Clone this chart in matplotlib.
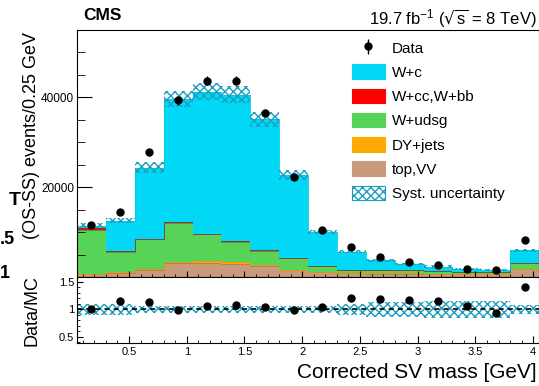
import numpy as np
import matplotlib
matplotlib.use('Agg')
import matplotlib.pyplot as plt
from matplotlib.ticker import MultipleLocator
from matplotlib.patches import Patch

plt.rcParams['font.family'] = ['Liberation Sans', 'DejaVu Sans']
plt.rcParams['mathtext.default'] = 'regular'
plt.rcParams['hatch.linewidth'] = 1.0

# corrected SV mass bins, 0.25 GeV wide
edges = np.linspace(0.05, 4.05, 17)
centers = 0.5 * (edges[:-1] + edges[1:])

# stacked MC components (OS-SS events per bin), bottom to top
top_vv = np.array([600, 1000, 1650, 3050, 3100, 2900, 2400, 1500, 1050, 800, 750, 750, 700, 650, 600, 1700])
dy_jets = np.array([150, 150, 150, 200, 550, 350, 250, 150, 100, 80, 60, 50, 40, 30, 30, 100])
w_udsg = np.array([9700, 4450, 6600, 8850, 5900, 4600, 3150, 2550, 1320, 720, 760, 720, 540, 430, 405, 1320])
w_ccbb = np.array([350, 100, 100, 150, 100, 100, 100, 70, 80, 60, 50, 60, 50, 30, 25, 100])
w_c = np.array([600, 6850, 15800, 27250, 31550, 32550, 29200, 18330, 7520, 3960, 2080, 1310, 970, 600, 545, 2680])

data = np.array([11500, 14400, 27700, 39300, 43600, 43600, 36500, 22300, 10500, 6740, 4400, 3400, 2670, 1850, 1500, 8300])
data_err = np.array([400, 500, 700, 1000, 1000, 1000, 900, 700, 250, 150, 100, 80, 70, 60, 60, 200])

# relative systematic uncertainty: main panel band and ratio band
syst_main = np.array([0.05, 0.045, 0.05, 0.045, 0.046, 0.047, 0.047, 0.05, 0.04, 0.065, 0.08, 0.1, 0.12, 0.14, 0.15, 0.06])
syst_ratio = np.array([0.1, 0.1, 0.07, 0.07, 0.07, 0.07, 0.07, 0.07, 0.065, 0.1, 0.14, 0.14, 0.15, 0.16, 0.15, 0.09])

labels = ['top,VV', 'DY+jets', 'W+udsg', 'W+cc,W+bb', 'W+c']
fills = ['#c99a7b', '#ffaa00', '#57d457', '#ff0000', '#00d8f5']
lines = ['#b07a55', '#e89a00', '#4c8f4c', '#8a3a3a', '#00c8e8']
hatch_col = '#1b9dbc'

fig = plt.figure(figsize=(5.39, 3.86), dpi=100)
ax = fig.add_axes([77 / 539, 1 - 277 / 386, 462 / 539, 247 / 386])
rax = fig.add_axes([77 / 539, 1 - 343 / 386, 462 / 539, 66 / 386], sharex=ax)

cum = np.zeros(len(centers))
for vals, fc, lc in zip([top_vv, dy_jets, w_udsg, w_ccbb, w_c], fills, lines):
    ax.stairs(cum + vals, edges, baseline=cum, fill=True, color=fc, lw=0)
    ax.stairs(cum + vals, edges, baseline=None, color=lc, lw=0.6)
    cum = cum + vals
total = cum

ax.stairs(total * (1 + syst_main), edges, baseline=total * (1 - syst_main), fill=True,
          facecolor='none', edgecolor=hatch_col, hatch='xxxx', lw=0)
h_data = ax.errorbar(centers, data, yerr=data_err, fmt='o', color='black', ms=5,
                     elinewidth=1, capsize=0)

ax.set_xlim(0.05, 4.05)
ax.set_ylim(0, 54900)
ax.set_yticks([0, 20000, 40000])
ax.set_yticklabels(['', '20000', '40000'])
ax.yaxis.set_minor_locator(MultipleLocator(5000))
ax.xaxis.set_major_locator(MultipleLocator(0.5))
ax.xaxis.set_minor_locator(MultipleLocator(0.1))
ax.tick_params(axis='both', which='both', direction='in', top=False, right=False, labelbottom=False)
ax.tick_params(axis='y', which='major', length=10.5, labelsize=8.5, pad=2)
ax.tick_params(axis='y', which='minor', length=5.5)
ax.tick_params(axis='x', which='major', length=4.5)
ax.tick_params(axis='x', which='minor', length=2)

handles = [h_data]
for lab, fc, lc in zip(labels[::-1], fills[::-1], lines[::-1]):
    handles.append(Patch(facecolor=fc, edgecolor=fc, lw=0.8, label=lab))
handles.append(Patch(facecolor='white', edgecolor=hatch_col, hatch='xxxx', lw=0.8, label='Syst. uncertainty'))
ax.legend(handles, ['Data'] + labels[::-1] + ['Syst. uncertainty'], loc='upper left',
          bbox_to_anchor=(0.578, 0.99), frameon=False, fontsize=11, borderpad=0,
          handlelength=2.2, handleheight=1.1, labelspacing=0.57, handletextpad=0.45)

# ratio panel
rax.stairs(1 + syst_ratio, edges, baseline=1 - syst_ratio, fill=True,
           facecolor='none', edgecolor=hatch_col, hatch='xxxx', lw=0)
rax.axhline(1, color='black', ls=(0, (3, 2.5)), lw=1.2)
rax.errorbar(centers, data / total, yerr=data_err / total, fmt='o', color='black', ms=5,
             elinewidth=1, capsize=0)
rax.set_ylim(0.39, 1.59)
rax.set_yticks([0.5, 1, 1.5])
rax.set_yticklabels(['0.5', '1', '1.5'])
rax.yaxis.set_minor_locator(MultipleLocator(0.1))
rax.set_xticks([0.5, 1, 1.5, 2, 2.5, 3, 3.5, 4])
rax.set_xticklabels(['0.5', '1', '1.5', '2', '2.5', '3', '3.5', '4'])
rax.xaxis.set_minor_locator(MultipleLocator(0.1))
rax.tick_params(axis='both', which='both', direction='in', top=False, right=False)
rax.tick_params(axis='both', which='major', labelsize=8)
rax.tick_params(axis='y', which='major', length=4.5, pad=2)
rax.tick_params(axis='y', which='minor', length=2.2)
rax.tick_params(axis='x', which='major', length=5, pad=3)
rax.tick_params(axis='x', which='minor', length=2.5)

fig.text(537 / 539, 1 - 373 / 386, 'Corrected SV mass [GeV]', ha='right', va='center', fontsize=15)
fig.text(32 / 539, 1 - 32 / 386, '(OS-SS) events/0.25 GeV', rotation=90, ha='center', va='top', fontsize=13)
fig.text(32 / 539, 1 - 275 / 386, 'Data/MC', rotation=90, ha='center', va='top', fontsize=13)
fig.text(83 / 539, 1 - 15 / 386, 'CMS', ha='left', va='center', fontsize=12.5, fontweight='bold')
fig.text(537 / 539, 1 - 19 / 386, r'19.7 fb$^{-1}$ ($\sqrt{s}$ = 8 TeV)', ha='right', va='center', fontsize=12)

# fragments of the neighbouring panel at the left edge
fig.text(15 / 539, 1 - 201 / 386, 'T', ha='center', va='center', fontsize=14, fontweight='bold')
fig.text(0, 1 - 240 / 386, '.5', ha='left', va='center', fontsize=13, fontweight='bold')
fig.text(0, 1 - 273 / 386, '1', ha='left', va='center', fontsize=13, fontweight='bold')

fig.savefig('out.png', dpi=100)
